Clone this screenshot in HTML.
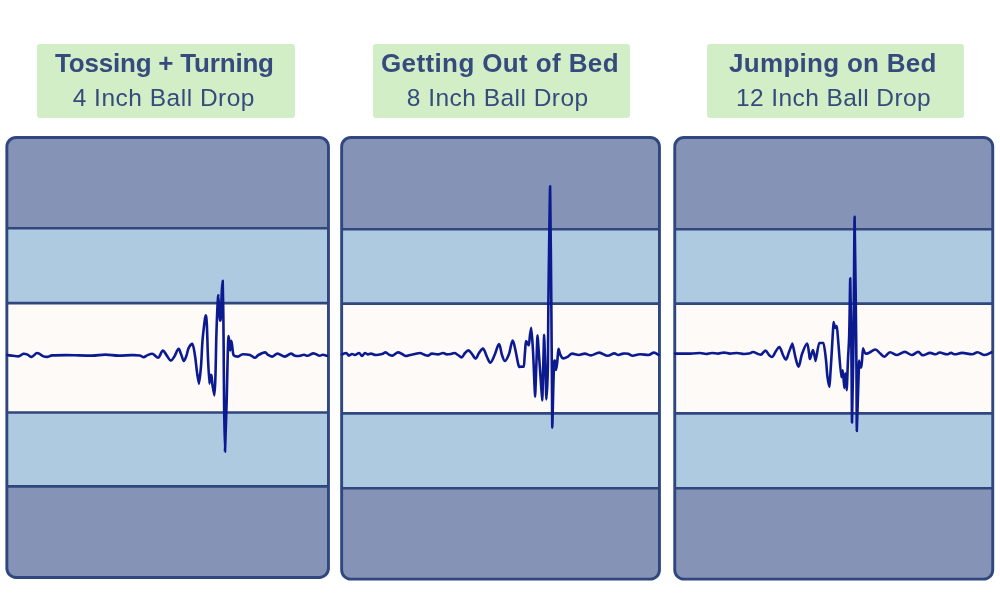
<!DOCTYPE html>
<html><head><meta charset="utf-8"><title>Motion Transfer</title>
<style>
html,body{margin:0;padding:0;background:#fff;}
body{width:1000px;height:607px;position:relative;overflow:hidden;font-family:"Liberation Sans",sans-serif;}
.lab{position:absolute;top:44.3px;height:74px;background:#d2eec6;border-radius:3px;color:#364a7e;white-space:nowrap;}
.lab .t{position:absolute;top:3.5px;font-weight:bold;font-size:26px;line-height:30px;}
.lab .s{position:absolute;top:38.6px;font-size:24.5px;line-height:30px;}
</style></head><body>
<svg width="1000" height="607" viewBox="0 0 1000 607" style="position:absolute;left:0;top:0">
<clipPath id="c1"><rect x="6.8500000000000005" y="137.45" width="321.59999999999997" height="439.99999999999994" rx="9.2" ry="9.2"/></clipPath>
<g clip-path="url(#c1)"><rect x="5.4" y="136.0" width="324.5" height="442.9" fill="#8593b7"/><rect x="5.4" y="228.2" width="324.5" height="258.2" fill="#aecae1"/><rect x="5.4" y="303.1" width="324.5" height="109.34999999999997" fill="#fdfaf8"/><line x1="5.4" x2="329.9" y1="228.2" y2="228.2" stroke="#30467f" stroke-width="2.6"/><line x1="5.4" x2="329.9" y1="303.1" y2="303.1" stroke="#30467f" stroke-width="2.6"/><line x1="5.4" x2="329.9" y1="412.45" y2="412.45" stroke="#30467f" stroke-width="2.6"/><line x1="5.4" x2="329.9" y1="486.4" y2="486.4" stroke="#30467f" stroke-width="2.6"/></g>
<rect x="6.8500000000000005" y="137.45" width="321.59999999999997" height="439.99999999999994" rx="9.2" ry="9.2" fill="none" stroke="#30467f" stroke-width="2.9"/>
<path d="M7.5,355.1 C8.4,355.2 11.2,355.6 13.0,355.8 C14.8,356.0 16.6,356.4 18.4,356.4 C20.2,356.4 22.2,353.8 23.7,353.8 C25.2,353.8 26.3,354.1 27.6,354.6 C28.9,355.1 30.1,356.9 31.6,356.9 C33.1,356.9 35.6,353.0 36.9,353.0 C38.2,353.0 38.4,353.2 39.5,353.8 C40.6,354.4 42.2,355.9 43.5,356.4 C44.8,356.9 45.9,356.9 47.4,356.9 C48.9,356.9 49.6,355.7 52.7,355.4 C55.8,355.1 61.5,355.1 65.9,355.1 C70.3,355.1 74.6,355.3 79.0,355.4 C83.4,355.5 87.8,355.6 92.2,355.6 C96.6,355.6 101.0,354.6 105.4,354.6 C109.8,354.6 114.2,355.6 118.6,355.6 C123.0,355.6 128.2,355.1 131.7,355.1 C135.2,355.1 137.7,355.0 139.7,355.4 C141.7,355.8 142.3,357.2 143.6,357.2 C144.9,357.2 146.1,355.7 147.6,355.1 C149.1,354.5 150.6,353.8 152.3,353.8 C154.1,353.8 156.3,357.7 158.1,357.7 C159.8,357.7 161.4,350.6 162.8,350.6 C164.2,350.6 165.2,353.4 166.5,355.1 C167.8,356.8 169.5,360.6 170.8,360.6 C172.1,360.6 173.1,358.3 174.4,356.4 C175.7,354.4 177.5,348.9 178.6,348.9 C179.7,348.9 180.1,352.0 181.0,354.0 C181.9,356.0 182.9,361.0 183.8,361.0 C184.7,361.0 185.6,357.8 186.4,355.7 C187.2,353.6 187.6,350.2 188.6,348.2 C189.6,346.2 191.2,343.9 192.3,343.9 C193.4,343.9 194.2,350.9 195.0,355.7 C195.8,360.5 196.4,368.2 197.1,372.9 C197.8,377.6 198.7,383.8 198.9,383.8 C199.1,383.8 200.4,373.6 201.0,366.4 C201.6,359.2 201.9,348.2 202.5,340.7 C203.1,333.2 204.1,325.6 204.6,321.4 C205.1,317.2 205.3,315.4 205.7,315.4 C206.1,315.4 206.4,316.9 206.8,323.6 C207.2,330.3 207.5,345.7 207.9,355.7 C208.3,365.7 209.3,383.6 209.4,383.6 C209.5,383.6 210.1,375.0 210.4,375.0 C210.8,375.0 211.1,374.3 211.5,376.1 C211.9,377.9 212.1,382.5 212.6,385.7 C213.1,388.9 214.1,395.4 214.3,395.4 C214.5,395.4 215.1,387.3 215.4,377.1 C215.8,366.9 216.0,347.3 216.4,334.3 C216.8,321.3 217.5,305.1 217.9,298.9 C218.3,292.6 218.5,296.8 218.6,296.8 C218.7,296.8 219.5,320.4 219.6,320.4 C219.7,320.4 220.6,320.4 220.7,320.4 C220.8,320.4 221.5,298.0 221.8,291.4 C222.1,284.8 222.6,280.7 222.7,280.7 C222.8,280.7 223.2,305.1 223.4,320.0 C223.6,334.9 223.7,354.7 223.8,370.0 C223.9,385.3 224.0,398.4 224.2,412.0 C224.4,425.6 224.9,451.6 225.0,451.6 C225.1,451.6 226.2,416.0 226.7,400.0 C227.1,384.0 227.4,366.4 227.7,355.7 C228.0,345.0 228.3,336.0 228.4,336.0 C228.5,336.0 229.0,338.3 229.3,340.7 C229.6,343.1 229.8,350.4 230.1,350.4 C230.4,350.4 231.0,340.7 231.4,340.7 C231.8,340.7 232.3,347.9 232.7,350.4 C233.1,352.8 232.9,354.4 233.8,355.4 C234.7,356.4 236.5,356.6 238.0,356.6 C239.5,356.6 240.8,354.2 242.8,354.2 C244.8,354.2 248.0,354.4 250.0,355.0 C252.0,355.6 253.4,357.8 254.8,357.8 C256.2,357.8 256.7,355.9 258.4,355.0 C260.1,354.1 263.4,352.4 265.0,352.4 C266.6,352.4 266.8,354.1 268.0,354.8 C269.2,355.5 270.6,356.6 272.2,356.6 C273.8,356.6 275.5,353.6 277.6,353.6 C279.7,353.6 282.6,356.6 284.8,356.6 C287.0,356.6 289.2,353.6 290.8,353.6 C292.4,353.6 293.2,355.0 294.4,355.4 C295.6,355.8 296.4,356.0 298.0,356.0 C299.6,356.0 302.4,354.8 304.0,354.8 C305.6,354.8 306.0,355.8 307.6,355.8 C309.2,355.8 311.6,353.4 313.6,353.4 C315.6,353.4 318.1,355.8 319.6,355.8 C321.1,355.8 321.4,354.8 322.6,354.8 C323.8,354.8 326.3,355.6 327.0,355.8" fill="none" stroke="#0c1a90" stroke-width="2.6" stroke-linejoin="round" stroke-linecap="round"/>
<clipPath id="c2"><rect x="341.65" y="137.45" width="317.79999999999995" height="441.7" rx="9.2" ry="9.2"/></clipPath>
<g clip-path="url(#c2)"><rect x="340.2" y="136.0" width="320.7" height="444.6" fill="#8593b7"/><rect x="340.2" y="229.3" width="320.7" height="259.0" fill="#aecae1"/><rect x="340.2" y="303.6" width="320.7" height="109.79999999999995" fill="#fdfaf8"/><line x1="340.2" x2="660.9" y1="229.3" y2="229.3" stroke="#30467f" stroke-width="2.6"/><line x1="340.2" x2="660.9" y1="303.6" y2="303.6" stroke="#30467f" stroke-width="2.6"/><line x1="340.2" x2="660.9" y1="413.4" y2="413.4" stroke="#30467f" stroke-width="2.6"/><line x1="340.2" x2="660.9" y1="488.3" y2="488.3" stroke="#30467f" stroke-width="2.6"/></g>
<rect x="341.65" y="137.45" width="317.79999999999995" height="441.7" rx="9.2" ry="9.2" fill="none" stroke="#30467f" stroke-width="2.9"/>
<path d="M342.0,354.4 C342.7,354.2 344.8,353.0 346.0,353.0 C347.2,353.0 348.0,355.6 349.0,355.6 C350.0,355.6 351.0,354.0 352.0,354.0 C353.0,354.0 353.8,355.0 355.0,355.0 C356.2,355.0 357.8,353.0 359.0,353.0 C360.2,353.0 361.0,356.0 362.0,356.0 C363.0,356.0 364.0,353.0 365.0,353.0 C366.0,353.0 367.0,354.4 368.0,354.4 C369.0,354.4 369.7,353.6 371.0,353.6 C372.3,353.6 374.2,355.0 376.0,355.0 C377.8,355.0 380.4,354.4 382.0,354.0 C383.6,353.6 384.4,352.4 385.6,352.4 C386.8,352.4 387.9,354.1 389.0,354.6 C390.1,355.1 390.9,355.6 392.4,355.6 C393.9,355.6 396.4,352.4 398.0,352.4 C399.6,352.4 400.7,353.4 402.0,354.0 C403.3,354.6 404.7,356.0 406.0,356.0 C407.3,356.0 408.5,355.3 410.0,355.0 C411.5,354.7 413.3,354.3 415.0,354.0 C416.7,353.7 418.5,353.0 420.0,353.0 C421.5,353.0 422.7,354.2 424.0,354.6 C425.3,355.0 426.7,355.6 428.0,355.6 C429.3,355.6 430.3,353.6 432.0,353.6 C433.7,353.6 436.2,354.4 438.0,354.4 C439.8,354.4 441.5,353.0 443.0,353.0 C444.5,353.0 445.7,354.4 447.0,354.4 C448.3,354.4 449.8,354.2 451.0,354.0 C452.2,353.8 453.2,353.0 454.4,353.0 C455.6,353.0 456.8,354.3 458.0,355.0 C459.2,355.7 460.4,357.4 461.6,357.4 C462.8,357.4 463.9,354.2 465.0,353.0 C466.1,351.8 467.2,350.4 468.4,350.4 C469.6,350.4 470.8,352.6 472.0,354.0 C473.2,355.4 474.4,358.6 475.6,358.6 C476.8,358.6 477.8,354.7 479.0,353.0 C480.2,351.3 481.7,348.6 483.0,348.6 C484.3,348.6 485.8,354.7 487.0,357.0 C488.2,359.3 489.1,362.6 490.4,362.6 C491.7,362.6 493.6,357.1 495.0,354.0 C496.4,350.9 497.8,344.0 499.0,344.0 C500.2,344.0 501.0,352.2 502.0,355.0 C503.0,357.8 503.8,361.0 505.0,361.0 C506.2,361.0 507.7,357.4 509.0,354.0 C510.3,350.6 511.5,340.5 512.6,340.5 C513.7,340.5 514.4,345.8 515.4,350.0 C516.4,354.2 517.7,362.9 518.6,365.6 C519.5,368.4 520.1,366.3 521.0,366.5 C521.9,366.7 523.7,366.8 523.9,366.8 C524.1,366.8 524.6,356.3 525.0,352.0 C525.4,347.7 525.6,341.0 526.0,341.0 C526.4,341.0 526.9,342.3 527.4,343.0 C527.9,343.7 528.4,345.3 528.8,345.3 C529.2,345.3 529.6,337.9 530.0,335.0 C530.4,332.1 531.1,327.8 531.3,327.8 C531.5,327.8 532.5,341.3 533.1,352.8 C533.7,364.3 534.9,396.7 535.1,396.7 C535.3,396.7 536.0,373.8 536.4,363.5 C536.8,353.2 537.3,335.2 537.5,335.2 C537.7,335.2 538.8,352.6 539.6,363.5 C540.4,374.4 542.1,400.5 542.3,400.5 C542.5,400.5 543.0,374.4 543.3,363.5 C543.6,352.6 544.0,334.8 544.1,334.8 C544.2,334.8 544.8,352.7 545.2,363.5 C545.6,374.3 546.2,399.4 546.4,399.4 C546.6,399.4 547.6,381.6 547.9,365.0 C548.2,348.4 548.0,329.8 548.4,300.0 C548.8,270.2 549.9,186.3 550.1,186.3 C550.3,186.3 551.0,270.2 551.3,300.0 C551.6,329.8 551.6,343.7 551.8,365.0 C552.0,386.3 552.2,427.6 552.3,427.6 C552.4,427.6 553.4,379.0 553.9,368.0 C554.4,357.0 554.9,361.4 555.2,361.4 C555.6,361.4 555.6,370.0 556.0,370.0 C556.4,370.0 556.9,365.0 557.3,361.5 C557.7,358.0 558.0,348.9 558.5,348.9 C559.0,348.9 559.6,353.2 560.4,354.8 C561.2,356.4 561.9,358.4 563.2,358.4 C564.5,358.4 566.5,357.4 568.0,356.6 C569.5,355.8 570.4,353.6 572.2,353.6 C574.0,353.6 576.7,355.0 578.8,355.0 C580.9,355.0 582.8,353.6 584.8,353.6 C586.8,353.6 588.4,355.4 590.8,355.4 C593.2,355.4 596.4,352.6 599.2,352.6 C602.0,352.6 605.1,355.8 607.6,355.8 C610.1,355.8 612.4,353.4 614.2,353.4 C616.0,353.4 616.9,355.0 618.4,355.0 C619.9,355.0 621.6,353.6 623.2,353.6 C624.8,353.6 626.4,353.4 628.0,353.8 C629.6,354.2 630.8,355.8 632.8,355.8 C634.8,355.8 637.4,354.2 640.0,354.2 C642.6,354.2 646.1,355.0 648.4,355.0 C650.7,355.0 652.1,352.6 653.8,352.6 C655.5,352.6 657.7,354.4 658.5,354.8" fill="none" stroke="#0c1a90" stroke-width="2.6" stroke-linejoin="round" stroke-linecap="round"/>
<clipPath id="c3"><rect x="674.75" y="137.45" width="318.0" height="441.7" rx="9.2" ry="9.2"/></clipPath>
<g clip-path="url(#c3)"><rect x="673.3" y="136.0" width="320.9000000000001" height="444.6" fill="#8593b7"/><rect x="673.3" y="229.3" width="320.9000000000001" height="259.0" fill="#aecae1"/><rect x="673.3" y="303.6" width="320.9000000000001" height="109.79999999999995" fill="#fdfaf8"/><line x1="673.3" x2="994.2" y1="229.3" y2="229.3" stroke="#30467f" stroke-width="2.6"/><line x1="673.3" x2="994.2" y1="303.6" y2="303.6" stroke="#30467f" stroke-width="2.6"/><line x1="673.3" x2="994.2" y1="413.4" y2="413.4" stroke="#30467f" stroke-width="2.6"/><line x1="673.3" x2="994.2" y1="488.3" y2="488.3" stroke="#30467f" stroke-width="2.6"/></g>
<rect x="674.75" y="137.45" width="318.0" height="441.7" rx="9.2" ry="9.2" fill="none" stroke="#30467f" stroke-width="2.9"/>
<path d="M675.0,353.6 C677.5,353.6 685.8,353.6 690.0,353.6 C694.2,353.6 697.3,353.0 700.0,353.0 C702.7,353.0 704.0,354.0 706.0,354.0 C708.0,354.0 710.0,353.0 712.0,353.0 C714.0,353.0 716.0,353.6 718.0,353.6 C720.0,353.6 722.0,352.6 724.0,352.6 C726.0,352.6 727.8,353.6 730.0,353.6 C732.2,353.6 734.7,353.0 737.0,353.0 C739.3,353.0 742.0,354.0 744.0,354.0 C746.0,354.0 747.5,353.9 749.0,353.6 C750.5,353.3 751.5,352.0 753.0,352.0 C754.5,352.0 756.7,353.6 758.0,354.0 C759.3,354.4 759.8,354.6 761.0,354.6 C762.2,354.6 764.1,350.6 765.4,350.6 C766.7,350.6 767.9,353.9 769.0,355.0 C770.1,356.1 770.8,357.0 772.0,357.0 C773.2,357.0 774.8,352.7 776.0,351.0 C777.2,349.3 778.2,347.0 779.4,347.0 C780.6,347.0 781.9,352.9 783.0,355.0 C784.1,357.1 785.0,359.6 786.0,359.6 C787.0,359.6 787.9,354.7 789.0,352.0 C790.1,349.3 792.0,343.6 792.4,343.6 C792.8,343.6 794.6,354.2 795.6,358.0 C796.6,361.8 797.5,366.6 798.6,366.6 C799.7,366.6 800.6,357.8 802.0,354.0 C803.4,350.2 805.8,343.6 807.0,343.6 C808.2,343.6 808.5,350.4 809.0,353.0 C809.5,355.6 809.3,359.0 810.0,359.0 C810.7,359.0 812.1,350.0 813.0,350.0 C813.9,350.0 815.2,361.0 815.6,361.0 C816.0,361.0 818.5,343.0 819.0,343.0 C819.5,343.0 823.2,343.0 823.6,343.0 C824.0,343.0 825.4,354.3 826.0,360.0 C826.6,365.7 826.9,372.7 827.5,377.2 C828.1,381.7 829.2,387.0 829.4,387.0 C829.6,387.0 830.6,370.3 831.3,359.5 C832.0,348.7 833.4,322.0 833.6,322.0 C833.8,322.0 834.8,328.0 835.3,328.0 C835.8,328.0 836.7,326.0 836.9,326.0 C837.1,326.0 837.7,335.2 838.4,343.7 C839.1,352.2 840.9,377.2 841.2,377.2 C841.5,377.2 842.6,370.3 842.8,370.3 C843.0,370.3 844.2,388.1 844.3,388.1 C844.4,388.1 845.2,373.3 845.3,373.3 C845.4,373.3 846.5,390.2 846.7,390.2 C846.9,390.2 847.6,368.7 848.0,359.5 C848.4,350.3 848.8,348.5 849.2,335.0 C849.6,321.5 850.1,278.3 850.2,278.3 C850.3,278.3 851.0,316.0 851.3,340.0 C851.6,364.0 851.9,422.4 852.0,422.4 C852.1,422.4 853.1,374.3 853.5,340.0 C853.9,305.7 854.4,216.8 854.6,216.8 C854.8,216.8 855.8,304.3 856.2,340.0 C856.6,375.7 856.7,431.0 856.8,431.0 C856.9,431.0 858.1,390.9 858.5,379.2 C858.9,367.4 859.0,360.5 859.1,360.5 C859.2,360.5 859.7,367.4 860.1,367.4 C860.5,367.4 861.3,367.4 861.5,367.4 C861.7,367.4 862.7,348.3 862.9,348.3 C863.1,348.3 864.8,353.6 865.5,353.6 C866.2,353.6 866.4,353.6 867.0,353.6 C867.6,353.6 868.0,353.3 869.4,352.6 C870.8,351.9 873.6,349.5 875.4,349.5 C877.2,349.5 878.8,352.4 880.3,353.6 C881.8,354.8 882.9,356.7 884.5,356.7 C886.1,356.7 888.0,352.2 890.1,352.2 C892.2,352.2 894.7,355.0 897.1,355.0 C899.5,355.0 902.3,351.9 904.8,351.9 C907.2,351.9 909.6,355.0 911.8,355.0 C914.0,355.0 916.2,351.9 918.1,351.9 C920.0,351.9 921.0,355.3 923.0,355.3 C925.0,355.3 927.9,352.9 930.0,352.9 C932.1,352.9 934.0,354.3 935.6,354.3 C937.2,354.3 937.9,352.5 939.8,352.5 C941.7,352.5 944.9,354.3 946.8,354.3 C948.7,354.3 949.6,352.9 951.0,352.9 C952.4,352.9 953.3,354.3 955.2,354.3 C957.1,354.3 959.4,352.9 962.2,352.9 C965.0,352.9 969.4,354.3 972.0,354.3 C974.6,354.3 975.5,352.2 977.6,352.2 C979.7,352.2 982.3,355.0 984.6,355.0 C986.9,355.0 990.4,352.7 991.5,352.2" fill="none" stroke="#0c1a90" stroke-width="2.6" stroke-linejoin="round" stroke-linecap="round"/>
</svg>
<div class="lab" style="left:37px;width:257.5px"><div class="t" id="t1" style="left:18.00px;letter-spacing:-0.2px">Tossing + Turning</div><div class="s" id="s1" style="left:35.70px;letter-spacing:0.5px">4 Inch Ball Drop</div></div>
<div class="lab" style="left:372.5px;width:257px"><div class="t" id="t2" style="left:8.50px;letter-spacing:0.38px">Getting Out of Bed</div><div class="s" id="s2" style="left:34.30px;letter-spacing:0.47px">8 Inch Ball Drop</div></div>
<div class="lab" style="left:707.3px;width:257.2px"><div class="t" id="t3" style="left:21.80px;letter-spacing:0.28px">Jumping on Bed</div><div class="s" id="s3" style="left:28.70px;letter-spacing:0.42px">12 Inch Ball Drop</div></div>
</body></html>
